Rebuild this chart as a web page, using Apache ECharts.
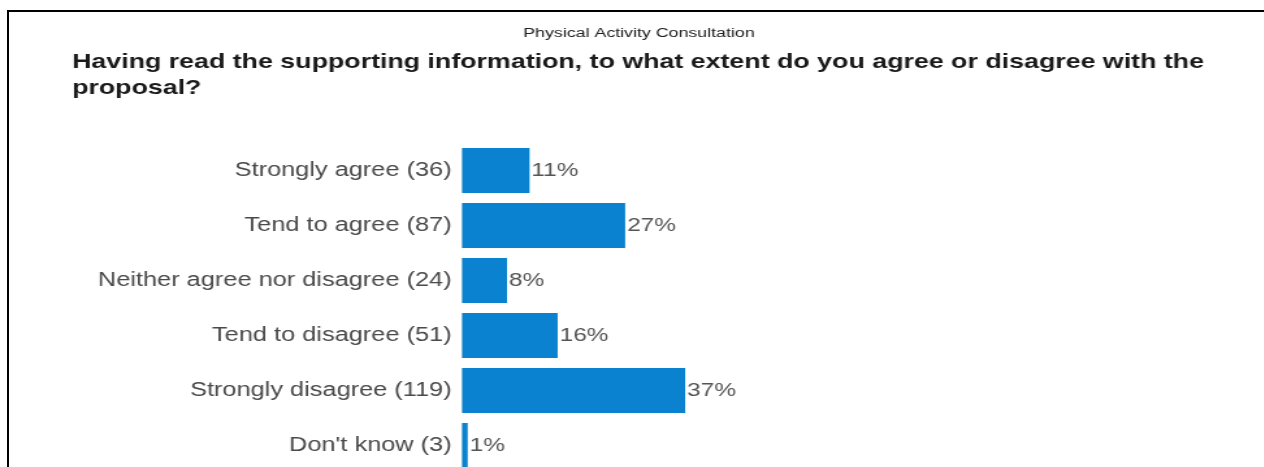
<!DOCTYPE html>
<html>
<head>
<meta charset="utf-8">
<script src="https://cdn.jsdelivr.net/npm/echarts@6/dist/echarts.min.js"></script>
<style>
  html, body { margin: 0; padding: 0; background: #fff; overflow: hidden; width: 1264px; height: 467px; }
  #chart { position: absolute; left: 0; top: 0; width: 972px; height: 480px; transform: scaleX(1.3); transform-origin: 0 0; }
  #frame { position: absolute; left: 7px; top: 10px; width: 1300px; height: 500px; border-top: 2px solid #000; border-left: 2px solid #000; pointer-events: none; }
</style>
</head>
<body>
<div id="chart"></div>
<div id="frame"></div>
<script>
// Data
const supTitle = 'Physical Activity Consultation';
const mainTitle = 'Having read the supporting information, to what extent do you agree or disagree with the\nproposal?';
const categories = ['Strongly agree', 'Tend to agree', 'Neither agree nor disagree', 'Tend to disagree', 'Strongly disagree', "Don't know"];
const counts = [36, 87, 24, 51, 119, 3];
const percents = [11.25, 27.19, 7.5, 15.94, 37.19, 0.94];

const labels = categories.map((c, i) => c + ' (' + counts[i] + ')');

const chart = echarts.init(document.getElementById('chart'));
chart.setOption({
  backgroundColor: '#fff',
  animation: false,
  title: [
    {
      text: supTitle,
      left: 491.5, top: 26, textAlign: 'center', padding: 0,
      textStyle: { fontFamily: 'Liberation Sans', fontSize: 13.7, fontWeight: 'normal', color: '#222' }
    },
    {
      text: mainTitle,
      left: 55.4, top: 49, padding: 0,
      textStyle: { fontFamily: 'Liberation Sans', fontSize: 20.6, fontWeight: 'bold', color: '#1a1a1a', lineHeight: 26 }
    }
  ],
  grid: { left: 355.4, right: 155.1, top: 143, bottom: 7, containLabel: false },
  xAxis: {
    type: 'value', min: 0, max: 100,
    show: false
  },
  yAxis: {
    type: 'category',
    data: labels,
    inverse: true,
    axisLine: { show: false },
    axisTick: { show: false },
    splitLine: { show: false },
    axisLabel: { margin: 8, fontFamily: 'Liberation Sans', fontSize: 19.5, color: '#4a4a4a' }
  },
  series: [{
    type: 'bar',
    data: percents,
    barWidth: 45,
    itemStyle: { color: '#0a82cf' },
    label: {
      show: true, position: 'right', distance: 1.5,
      fontFamily: 'Liberation Sans', fontSize: 18.8, color: '#555',
      formatter: p => Math.round(p.value) + '%'
    }
  }]
});
</script>
</body>
</html>
